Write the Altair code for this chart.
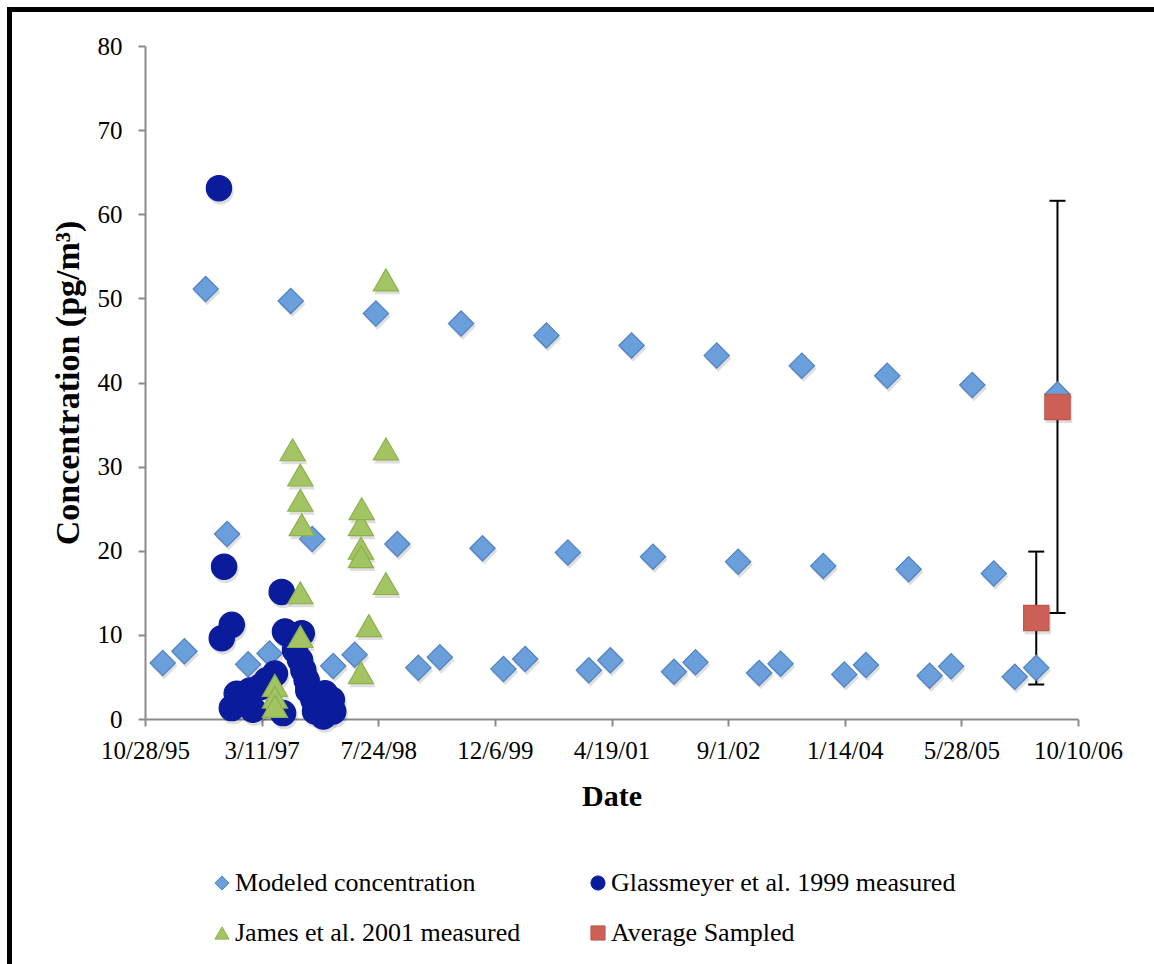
import altair as alt
import pandas as pd

# ---- Modeled concentration (pg/m3): four model dates per year ----
model_years = list(range(1996, 2007))
model_jan = [6.66, 6.5, 6.3, 6.1, 5.95, 5.8, 5.63, 5.47, 5.3, 5.15, 5.03]
model_apr = [8.05, 7.8, 7.65, 7.35, 7.13, 6.98, 6.74, 6.58, 6.42, 6.26, 6.1]
model_jul = [51.1, 49.7, 48.2, 47.0, 45.6, 44.4, 43.2, 42.0, 40.8, 39.7, 38.6]
model_oct = [22.0, 21.4, 20.8, 20.3, 19.8, 19.3, 18.7, 18.2, 17.8, 17.3]

# ---- Glassmeyer et al. 1999 measurements ----
glass_dates = [
    "1996-09-09", "1996-09-21", "1996-10-01", "1996-11-03", "1996-11-03",
    "1996-11-24", "1997-01-20", "1997-02-02", "1997-03-04", "1997-04-02",
    "1997-05-07", "1997-06-05", "1997-06-11", "1997-06-19", "1997-06-27",
    "1997-08-01", "1997-08-23", "1997-08-30", "1997-09-06", "1997-09-20",
    "1997-09-27", "1997-10-19", "1997-10-26", "1997-12-01", "1997-12-08",
    "1998-01-06", "1998-01-12",
]
glass_values = [
    63.1, 9.6, 18.1, 11.2, 1.3,
    3.0, 3.4, 1.1, 3.8, 4.6,
    5.4, 15.1, 0.7, 10.4, 10.2,
    8.2, 7.0, 10.2, 5.8, 4.6,
    3.4, 2.3, 0.9, 0.3, 3.05,
    2.3, 0.9,
]

# ---- James et al. 2001 measurements ----
james_dates = [
    "1997-05-07", "1997-05-07", "1997-05-07", "1997-07-22",
    "1997-08-24", "1997-08-24", "1997-08-24", "1997-08-24", "1997-08-30",
    "1998-05-11", "1998-05-11", "1998-05-11", "1998-05-11", "1998-05-14",
    "1998-06-14", "1998-08-26", "1998-08-26", "1998-08-26",
]
james_values = [
    4.0, 2.6, 1.5, 32.0,
    29.0, 26.0, 15.0, 9.8, 23.1,
    23.1, 20.3, 19.3, 5.5, 25.0,
    11.1, 52.2, 32.1, 16.1,
]

# ---- Average sampled with error bars ----
avg_dates = ["2006-04-14", "2006-07-14"]
avg_values = [12.0, 37.1]
avg_err = [7.9, 24.5]

series_names = [
    "Modeled concentration",
    "Glassmeyer et al. 1999 measured",
    "James et al. 2001 measured",
    "Average Sampled",
]

rows = []
for i, yr in enumerate(model_years):
    rows.append((f"{yr}-01-12", model_jan[i], series_names[0]))
    rows.append((f"{yr}-04-14", model_apr[i], series_names[0]))
    rows.append((f"{yr}-07-14", model_jul[i], series_names[0]))
    if i < len(model_oct):
        rows.append((f"{yr}-10-14", model_oct[i], series_names[0]))
for d, v in zip(glass_dates, glass_values):
    rows.append((d, v, series_names[1]))
for d, v in zip(james_dates, james_values):
    rows.append((d, v, series_names[2]))
for d, v in zip(avg_dates, avg_values):
    rows.append((d, v, series_names[3]))
points = pd.DataFrame(rows, columns=["date", "value", "series"])

errors = pd.DataFrame({
    "date": avg_dates,
    "lo": [v - e for v, e in zip(avg_values, avg_err)],
    "hi": [v + e for v, e in zip(avg_values, avg_err)],
})

tick_dates = [
    (1995, 10, 28), (1997, 3, 11), (1998, 7, 24), (1999, 12, 6), (2001, 4, 19),
    (2002, 9, 1), (2004, 1, 14), (2005, 5, 28), (2006, 10, 10),
]
tick_values = [alt.DateTime(year=y, month=m, date=d, utc=True) for y, m, d in tick_dates]

FONT = "Liberation Serif"
AXIS_GRAY = "#8a8a8a"
MARKER_SIZE = 640

x_scale = alt.Scale(type="utc", domain=[tick_values[0], tick_values[-1]], nice=False)
y_scale = alt.Scale(domain=[0, 80], nice=False)

x_enc = alt.X(
    "date:T",
    scale=x_scale,
    axis=alt.Axis(
        values=tick_values,
        labelExpr="utcFormat(datum.value, '%-m/%-d/%y')",
        title="Date", labelPadding=12, titlePadding=18,
        labelFontSize=25, titleFontSize=30, labelFlush=False,
    ),
)
y_enc = alt.Y(
    "value:Q",
    scale=y_scale,
    axis=alt.Axis(
        values=list(range(0, 81, 10)), title="Concentration (pg/m³)",
        labelPadding=16, titlePadding=12, labelFontSize=25, titleFontSize=34,
    ),
)

shape_scale = alt.Scale(domain=series_names, range=["diamond", "circle", "triangle-up", "square"])
fill_scale = alt.Scale(domain=series_names, range=["#6A9FDC", "#0A1C9C", "#A3C462", "#CC5F56"])
stroke_scale = alt.Scale(domain=series_names, range=["#4F82C0", "#0A1C9C", "#8DB04E", "#C0554C"])

legend = alt.Legend(
    title=None, orient="none", legendX=64, legendY=824, columns=2,
    direction="horizontal",
    columnPadding=64, rowPadding=24, labelFont=FONT, labelFontSize=26,
    labelColor="black", labelOffset=0, labelLimit=500, symbolSize=200,
    symbolStrokeWidth=1, symbolOpacity=1, padding=0,
)

# soft drop shadow under every marker
shadows = alt.Chart(points).mark_point(
    filled=True, size=MARKER_SIZE + 60, color="#000000", opacity=0.13,
    xOffset=1.5, yOffset=3,
).encode(
    x=alt.X("date:T", scale=x_scale),
    y=alt.Y("value:Q", scale=y_scale),
    shape=alt.Shape("series:N", scale=shape_scale, legend=legend),
)

markers = alt.Chart(points).mark_point(
    filled=True, size=MARKER_SIZE, strokeWidth=1.2, opacity=1
).encode(
    x=x_enc,
    y=y_enc,
    shape=alt.Shape("series:N", scale=shape_scale, legend=legend),
    fill=alt.Fill("series:N", scale=fill_scale, legend=legend),
    stroke=alt.Stroke("series:N", scale=stroke_scale, legend=legend),
    order=alt.Order("idx:Q"),
).transform_window(idx="row_number()")

err_line = alt.Chart(errors).mark_rule(color="black", strokeWidth=2).encode(
    x="date:T", y="lo:Q", y2="hi:Q"
)
cap_hi = alt.Chart(errors).mark_rule(color="black", strokeWidth=2, xOffset=-8, x2Offset=8).encode(
    x="date:T", x2="date:T", y="hi:Q"
)
cap_lo = alt.Chart(errors).mark_rule(color="black", strokeWidth=2, xOffset=-8, x2Offset=8).encode(
    x="date:T", x2="date:T", y="lo:Q"
)

# page frame: heavy black band along the top and left edges
frame_data = alt.Data(values=[{"k": 0}])
frame_top = alt.Chart(frame_data).mark_rule(color="black", strokeWidth=5).encode(
    x=alt.value(-138), x2=alt.value(1015), y=alt.value(-36.5)
)
frame_left = alt.Chart(frame_data).mark_rule(color="black", strokeWidth=5).encode(
    x=alt.value(-135.5), y=alt.value(-39), y2=alt.value(925)
)

chart = alt.layer(
    frame_top, frame_left, err_line, cap_hi, cap_lo, shadows, markers
).properties(
    width=933,
    height=673,
    autosize=alt.AutoSizeParams(type="none"),
    padding={"left": 145, "top": 46, "right": 76, "bottom": 245},
    background="white",
).configure(
    font=FONT
).configure_view(
    stroke=None
).configure_axis(
    grid=False,
    domainColor=AXIS_GRAY,
    domainWidth=2,
    tickColor=AXIS_GRAY,
    tickWidth=2,
    tickSize=7,
    labelFont=FONT,
    labelColor="black",
    titleFont=FONT,
    titleFontWeight="bold",
    titleColor="black",
).configure_legend(
    labelFont=FONT
)

chart.save("out.html", embed_options={"renderer": "svg", "actions": False})
